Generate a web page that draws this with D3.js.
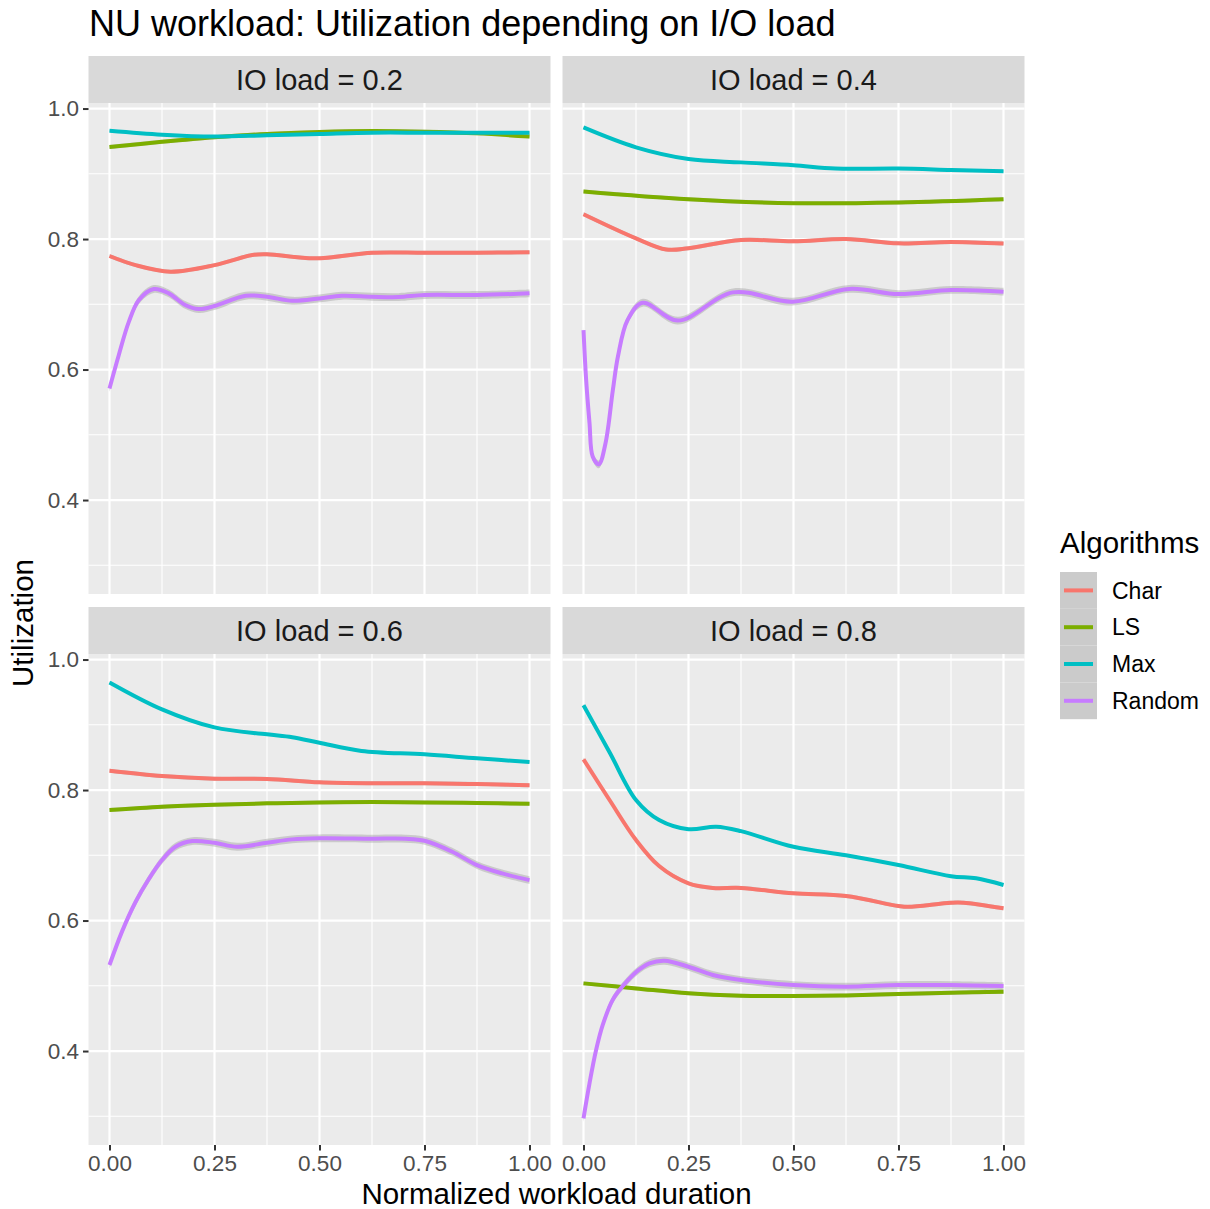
<html>
<head>
<meta charset="UTF-8">
<script src="https://d3js.org/d3.v7.min.js"></script>
<style>
    body { margin: 0; background: #ffffff; }
    svg { display: block; font-family: "Liberation Sans", Arial, sans-serif; }
</style>
</head>
<body>
<svg width="1210" height="1209"></svg>
<script>
    // values
    const algorithms = ["Char", "LS", "Max", "Random"];
    const colors = ["#F8766D", "#7CAE00", "#00BFC4", "#C77CFF"];
    const ioLoads = ["0.2", "0.4", "0.6", "0.8"];
    const xTicks = [0, 0.25, 0.5, 0.75, 1];
    const xMinor = [0.125, 0.375, 0.625, 0.875];
    const yTicks = [0.4, 0.6, 0.8, 1.0];
    const yMinor = [0.3, 0.5, 0.7, 0.9];
    const bandHalf = [0.003, 0.003, 0.002, 0.006];

    const char02 = [[0,0.774],[0.062,0.760],[0.145,0.750],[0.25,0.760],[0.34,0.7755],[0.375,0.7766],[0.49,0.7704],[0.625,0.779],[0.75,0.779],[0.875,0.779],[1,0.7796]];
    const ls02 = [[0,0.941],[0.125,0.949],[0.25,0.956],[0.375,0.961],[0.5,0.964],[0.625,0.9655],[0.75,0.9645],[0.875,0.962],[1,0.957]];
    const max02 = [[0,0.966],[0.125,0.960],[0.25,0.957],[0.375,0.959],[0.5,0.961],[0.625,0.963],[0.75,0.963],[0.875,0.963],[1,0.963]];
    const random02 = [[0,0.571],[0.022,0.622],[0.046,0.673],[0.07,0.7065],[0.1055,0.7234],[0.141,0.7168],[0.18,0.699],[0.212,0.6927],[0.25,0.6973],[0.324,0.7131],[0.375,0.7116],[0.435,0.7054],[0.5,0.709],[0.553,0.7131],[0.625,0.7116],[0.688,0.7111],[0.75,0.7142],[0.875,0.7142],[1,0.7168]];

    const char04 = [[0,0.838],[0.125,0.801],[0.197,0.784],[0.25,0.786],[0.375,0.7985],[0.5,0.7965],[0.625,0.800],[0.75,0.7934],[0.875,0.7954],[1,0.793]];
    const ls04 = [[0,0.873],[0.25,0.861],[0.5,0.855],[0.75,0.856],[1,0.861]];
    const max04 = [[0,0.971],[0.125,0.9405],[0.25,0.9226],[0.375,0.9175],[0.5,0.913],[0.6,0.908],[0.75,0.908],[0.875,0.906],[1,0.904]];
    const random04 = [[0,0.6605],[0.0063,0.584],[0.0143,0.518],[0.022,0.4664],[0.0365,0.4547],[0.0524,0.487],[0.07,0.569],[0.082,0.620],[0.105,0.676],[0.141,0.7024],[0.2246,0.675],[0.3556,0.7183],[0.498,0.704],[0.633,0.7236],[0.75,0.7157],[0.875,0.722],[1,0.7193]];

    const char06 = [[0,0.8296],[0.125,0.8215],[0.25,0.8174],[0.375,0.8169],[0.5,0.8118],[0.625,0.8103],[0.75,0.8103],[0.875,0.8092],[1,0.8072]];
    const ls06 = [[0,0.7693],[0.125,0.7744],[0.25,0.7775],[0.375,0.7796],[0.5,0.7811],[0.625,0.7816],[0.75,0.7811],[0.875,0.7801],[1,0.779]];
    const max06 = [[0,0.965],[0.125,0.9237],[0.25,0.896],[0.375,0.8854],[0.435,0.881],[0.5,0.8725],[0.6,0.860],[0.75,0.8547],[0.875,0.8486],[1,0.843]];
    const random06 = [[0,0.5318],[0.03,0.5834],[0.062,0.6284],[0.094,0.664],[0.125,0.6927],[0.157,0.7131],[0.197,0.7218],[0.25,0.7192],[0.304,0.7131],[0.375,0.7192],[0.435,0.7244],[0.5,0.726],[0.625,0.7254],[0.705,0.7254],[0.75,0.7223],[0.816,0.7055],[0.875,0.685],[0.935,0.6723],[1,0.662]];

    const char08 = [[0,0.847],[0.062,0.7847],[0.125,0.7234],[0.18,0.6835],[0.25,0.657],[0.308,0.650],[0.375,0.650],[0.5,0.6417],[0.625,0.6375],[0.75,0.6222],[0.773,0.621],[0.875,0.6273],[0.905,0.6273],[1,0.6187]];
    const ls08 = [[0,0.5037],[0.125,0.496],[0.25,0.4884],[0.375,0.4848],[0.5,0.4843],[0.625,0.4853],[0.75,0.4874],[0.875,0.4894],[1,0.4909]];
    const max08 = [[0,0.930],[0.062,0.858],[0.125,0.7847],[0.18,0.754],[0.25,0.740],[0.316,0.7438],[0.375,0.737],[0.5,0.713],[0.625,0.700],[0.75,0.685],[0.875,0.668],[0.935,0.6647],[1,0.6544]];
    const random08 = [[0,0.2968],[0.0143,0.3505],[0.03,0.4015],[0.046,0.4403],[0.07,0.4791],[0.1016,0.5056],[0.133,0.5251],[0.157,0.5344],[0.193,0.5384],[0.25,0.5292],[0.308,0.5165],[0.375,0.5088],[0.5,0.5011],[0.625,0.4986],[0.75,0.5011],[0.875,0.5011],[1,0.4996]];

    const panelSeries = [
        [char02, ls02, max02, random02],
        [char04, ls04, max04, random04],
        [char06, ls06, max06, random06],
        [char08, ls08, max08, random08]
    ];

    // layout
    const panelW = 462, panelH = 491, stripH = 47;
    const panelX = [88.5, 562.5];
    const panelY = [103, 654];

    const svg = d3.select("svg");

    svg.append("text")
        .attr("x", 89).attr("y", 36)
        .style("font-size", "36px").style("fill", "#000")
        .text("NU workload: Utilization depending on I/O load");

    const x = d3.scaleLinear().domain([-0.05, 1.05]).range([0, panelW]);
    const y = d3.scaleLinear().domain([0.256, 1.0085]).range([panelH, 0]);

    const curve = d3.curveCatmullRom.alpha(0.5);
    const line = d3.line()
        .x(d => x(d[0])).y(d => y(d[1]))
        .curve(curve);

    ioLoads.forEach((load, i) => {
        const col = i % 2, row = Math.floor(i / 2);
        const g = svg.append("g")
            .attr("transform", `translate(${panelX[col]},${panelY[row]})`);

        // strip
        g.append("rect")
            .attr("x", 0).attr("y", -stripH)
            .attr("width", panelW).attr("height", stripH)
            .attr("fill", "#D9D9D9");
        g.append("text")
            .attr("x", panelW / 2).attr("y", -stripH / 2)
            .attr("dy", "0.36em")
            .attr("text-anchor", "middle")
            .style("font-size", "29px").style("fill", "#1A1A1A")
            .text("IO load = " + load);

        g.append("rect")
            .attr("width", panelW).attr("height", panelH)
            .attr("fill", "#EBEBEB");

        // grid
        g.selectAll(".ymin").data(yMinor).enter().append("line")
            .attr("x1", 0).attr("x2", panelW)
            .attr("y1", d => y(d)).attr("y2", d => y(d))
            .attr("stroke", "#fff").attr("stroke-width", 1.1);
        g.selectAll(".xmin").data(xMinor).enter().append("line")
            .attr("y1", 0).attr("y2", panelH)
            .attr("x1", d => x(d)).attr("x2", d => x(d))
            .attr("stroke", "#fff").attr("stroke-width", 1.1);
        g.selectAll(".ymaj").data(yTicks).enter().append("line")
            .attr("x1", 0).attr("x2", panelW)
            .attr("y1", d => y(d)).attr("y2", d => y(d))
            .attr("stroke", "#fff").attr("stroke-width", 2.2);
        g.selectAll(".xmaj").data(xTicks).enter().append("line")
            .attr("y1", 0).attr("y2", panelH)
            .attr("x1", d => x(d)).attr("x2", d => x(d))
            .attr("stroke", "#fff").attr("stroke-width", 2.2);

        // smooth curves with their confidence bands
        panelSeries[i].forEach((pts, k) => {
            const area = d3.area()
                .x(d => x(d[0]))
                .y0(d => y(d[1] - bandHalf[k]))
                .y1(d => y(d[1] + bandHalf[k]))
                .curve(curve);
            g.append("path").datum(pts)
                .attr("d", area)
                .attr("fill", "#999999").attr("fill-opacity", 0.4);
        });
        panelSeries[i].forEach((pts, k) => {
            g.append("path").datum(pts)
                .attr("d", line)
                .attr("fill", "none")
                .attr("stroke", colors[k])
                .attr("stroke-width", 4)
                .attr("stroke-linejoin", "round");
        });

        // axes
        if (col === 0) {
            const ay = g.append("g")
                .call(d3.axisLeft(y).tickValues(yTicks).tickFormat(d3.format(".1f")).tickSize(5.5).tickPadding(4));
            ay.select(".domain").remove();
            ay.selectAll("line").attr("stroke", "#333333").attr("stroke-width", 2);
            ay.selectAll("text").style("font-size", "22.5px").attr("fill", "#4D4D4D")
                .style("font-family", "'Liberation Sans', Arial, sans-serif");
        }
        if (row === 1) {
            const ax = g.append("g")
                .attr("transform", `translate(0,${panelH})`)
                .call(d3.axisBottom(x).tickValues(xTicks).tickFormat(d3.format(".2f")).tickSize(5.5).tickPadding(5));
            ax.select(".domain").remove();
            ax.selectAll("line").attr("stroke", "#333333").attr("stroke-width", 2);
            ax.selectAll("text").style("font-size", "22.5px").attr("fill", "#4D4D4D")
                .style("font-family", "'Liberation Sans', Arial, sans-serif");
        }
    });

    // axis titles
    svg.append("text")
        .attr("x", (panelX[0] + panelX[1] + panelW) / 2).attr("y", 1204)
        .attr("text-anchor", "middle")
        .style("font-size", "29.5px").style("fill", "#000")
        .text("Normalized workload duration");
    svg.append("text")
        .attr("transform", "translate(33,623) rotate(-90)")
        .attr("text-anchor", "middle")
        .style("font-size", "29.5px").style("fill", "#000")
        .text("Utilization");

    // legend
    const leg = svg.append("g").attr("transform", "translate(1060,572)");
    leg.append("text")
        .attr("x", 0).attr("y", -19)
        .style("font-size", "29.5px").style("fill", "#000")
        .text("Algorithms");
    const keyH = 36.8;
    algorithms.forEach((a, k) => {
        leg.append("rect")
            .attr("x", 0).attr("y", k * keyH)
            .attr("width", 37).attr("height", keyH)
            .attr("fill", "#CBCBCB");
        leg.append("line")
            .attr("x1", 4).attr("x2", 33)
            .attr("y1", k * keyH + keyH / 2).attr("y2", k * keyH + keyH / 2)
            .attr("stroke", colors[k]).attr("stroke-width", 4);
        leg.append("text")
            .attr("x", 52).attr("y", k * keyH + keyH / 2)
            .attr("dy", "0.36em")
            .style("font-size", "23px").style("fill", "#000")
            .text(a);
    });
</script>
</body>
</html>
